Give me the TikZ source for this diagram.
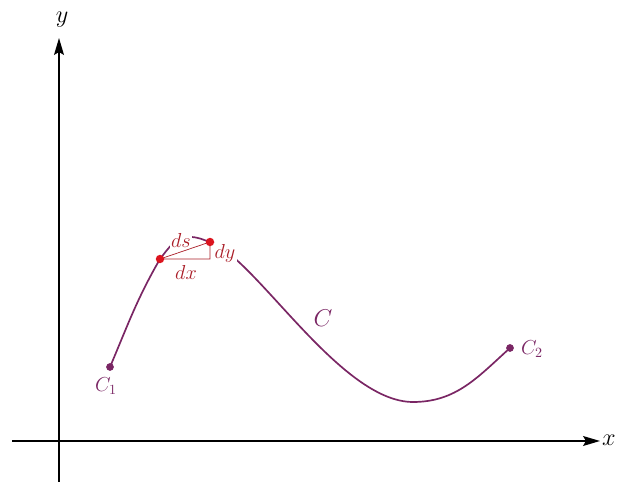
\documentclass[tikz,border=0pt]{standalone}
\usepackage{tikz}
\usepackage{xcolor}
\usetikzlibrary{arrows.meta}
\usepackage{amsmath}
\definecolor{curvecol}{RGB}{122,38,100}
\definecolor{dotcol}{RGB}{220,20,30}
\definecolor{labcol}{RGB}{170,30,40}
\newcommand{\clab}[1]{\fontsize{14}{16}\selectfont{$#1$}}
\newcommand{\axlab}[1]{\fontsize{16}{18}\selectfont{$#1$}}

\begin{document}
\begin{tikzpicture}[x=0.25mm,y=0.25mm,every node/.style={inner sep=1pt},
   axis/.style={draw=black,line width=1.3pt,-{Stealth[length=12pt,width=7pt,inset=2pt]}},
   curve/.style={draw=curvecol,line width=1.2pt},
   tri/.style={draw=labcol,line width=0.5pt},
   pend/.style={circle,fill=curvecol,inner sep=0pt,minimum size=5.5pt},
   pmid/.style={circle,fill=dotcol,inner sep=0pt,minimum size=6pt}]
 \useasboundingbox (0,0) rectangle (623,494);

 \draw[axis] (59,12) coordinate (Ya) -- (59,456) coordinate (Yb);
 \draw[axis] (12,53) coordinate (Xa) -- (600,53) coordinate (Xb);
 \draw (62,474) node (ylab) {\axlab{y}};
 \draw (609,54) node (xlab) {\axlab{x}};

 \draw[curve] (110,127) coordinate (c1)
      to[out=67,in=240] (160,235) coordinate (p1)
      to[out=52,in=180] (190,257) coordinate (pk)
      to[out=0,in=162]  (210,252) coordinate (p2)
      .. controls (255,237) and (340,92) .. (413,92) coordinate (mn)
      to[out=0,in=222]  (510,146) coordinate (c2);

 \draw (181,254) node[fill=white,text=labcol] (ds) {\clab{ds}};
 \draw (186,222) node[text=labcol] (dx) {\clab{dx}};
 \draw (225,241) node[fill=white,text=labcol] (dy) {\clab{dy}};

 \coordinate (rt) at (p1 -| p2);
 \draw[tri] (p1) -- (p2) -- (rt) -- cycle;

 \draw (c1) node[pend] (C1) {};
 \draw (c2) node[pend] (C2) {};
 \draw (p1) node[pmid] (P1) {};
 \draw (p2) node[pmid] (P2) {};

 \draw (106,108) node[text=curvecol] (c1lab) {\clab{C_1}};
 \draw (532,145) node[text=curvecol] (c2lab) {\clab{C_2}};
 \draw (323,176) node[text=curvecol] (clab) {\fontsize{18}{20}\selectfont{$C$}};

\end{tikzpicture}
\end{document}
